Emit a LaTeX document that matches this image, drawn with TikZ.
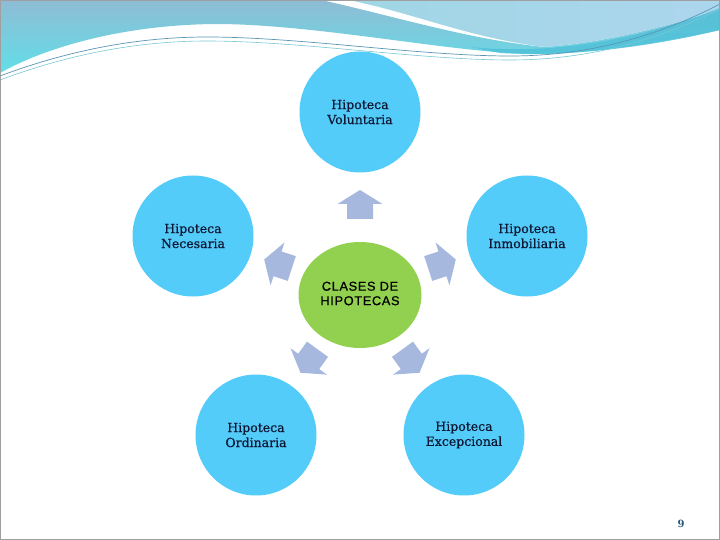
\documentclass[tikz,border=0pt]{standalone}
\usepackage{fontspec}
\setmainfont{DejaVu Serif}
\newfontfamily\circfont[FakeBold=0.6]{DejaVu Serif}
\newfontfamily\clsfont[LetterSpace=5,FakeBold=0.6]{Liberation Sans}
\usetikzlibrary{shapes.geometric}
\definecolor{cblue}{RGB}{84,204,250}
\definecolor{cgreen}{RGB}{146,208,80}
\definecolor{arrowc}{RGB}{166,184,222}
\definecolor{navy}{RGB}{14,24,52}
\definecolor{hdrtop}{RGB}{142,188,212}
\definecolor{hdrbot}{RGB}{98,222,232}
\definecolor{hdrB1}{RGB}{160,214,228}
\definecolor{hdrB2}{RGB}{172,214,238}
\definecolor{teal}{RGB}{78,192,216}
\definecolor{pgnum}{RGB}{40,90,120}
\tikzset{
  outer/.style={circle, fill=cblue, minimum size=121pt, inner sep=0pt, align=center,
    font=\circfont\fontsize{12.5}{15}\selectfont, text=navy},
  inner/.style={ellipse, fill=cgreen, minimum width=123pt, minimum height=106pt, inner sep=0pt,
    align=center, font=\clsfont\fontsize{12.8}{14.5}\selectfont, text=black},
  barrow/.style={fill=arrowc}
}
\newcommand\blockarr[3]{%
  \fill[barrow, shift={(#1,#2)}, rotate=#3] (-14.5,-13) -- (0.5,-13) -- (0.5,-22.5) -- (14.5,0)
    -- (0.5,22.5) -- (0.5,13) -- (-14.5,13) -- cycle;}
\begin{document}
\begin{tikzpicture}[x=1pt,y=-1pt]
\useasboundingbox (0,0) rectangle (720,540);
\fill[white] (0,0) rectangle (720,540);
% header: big left region
\shade[top color=hdrtop, bottom color=hdrbot]
  (0,0) -- (321,0) .. controls (390,15) and (470,40) .. (545,47)
  .. controls (610,42) and (670,25) .. (720,10) -- (720,30)
  .. controls (650,45) and (580,55) .. (530,54)
  .. controls (450,52) and (320,25) .. (220,24)
  .. controls (130,24) and (50,45) .. (0,73) -- cycle;
% header: top-right region
\shade[left color=hdrB1, right color=hdrB2]
  (349,0) -- (720,0) -- (720,10) .. controls (670,25) and (610,42) .. (545,47)
  .. controls (470,38) and (420,15) .. (349,0) -- cycle;
% teal band on the right
\fill[teal, opacity=0.8]
  (470,47) .. controls (560,56) and (650,36) .. (720,8) -- (720,30)
  .. controls (650,47) and (570,57) .. (500,53) -- cycle;
% thin lines
\draw[line width=0.7pt, color={rgb,255:red,90;green,150;blue,180}]
  (0,76) .. controls (80,46) and (150,37) .. (207,37)
  .. controls (300,37) and (420,56) .. (510,56)
  .. controls (600,56) and (670,30) .. (720,4);
\draw[line width=0.6pt, color={rgb,255:red,120;green,200;blue,212}]
  (0,80) .. controls (80,50) and (150,41) .. (207,41)
  .. controls (300,41) and (420,60) .. (510,60)
  .. controls (600,60) and (670,34) .. (720,9);
% frame
\draw[line width=1.2pt, color=gray!75] (0,0) rectangle (720,540);

% nodes
\node[inner] (c) at (360,295) {\raisebox{3pt}{\begin{tabular}{@{}c@{}}CLASES DE\\HIPOTECAS\end{tabular}}};
\node[outer] (v) at (360,112) {Hipoteca\\Voluntaria};
\node[outer] (i) at (527,236) {Hipoteca\\Inmobiliaria};
\node[outer] (n) at (193,236) {Hipoteca\\Necesaria};
\node[outer] (o) at (256,435) {Hipoteca\\Ordinaria};
\node[outer] (e) at (464,435) {Hipoteca\\Excepcional};

% block arrows
\blockarr{360}{204.5}{90}
\blockarr{442}{264}{18}
\blockarr{278}{264}{162}
\blockarr{411}{361}{-54}
\blockarr{309}{361}{-126}

\node[font=\bfseries\fontsize{10}{12}\selectfont, text=pgnum] (pg) at (681,524) {9};
\end{tikzpicture}
\end{document}
